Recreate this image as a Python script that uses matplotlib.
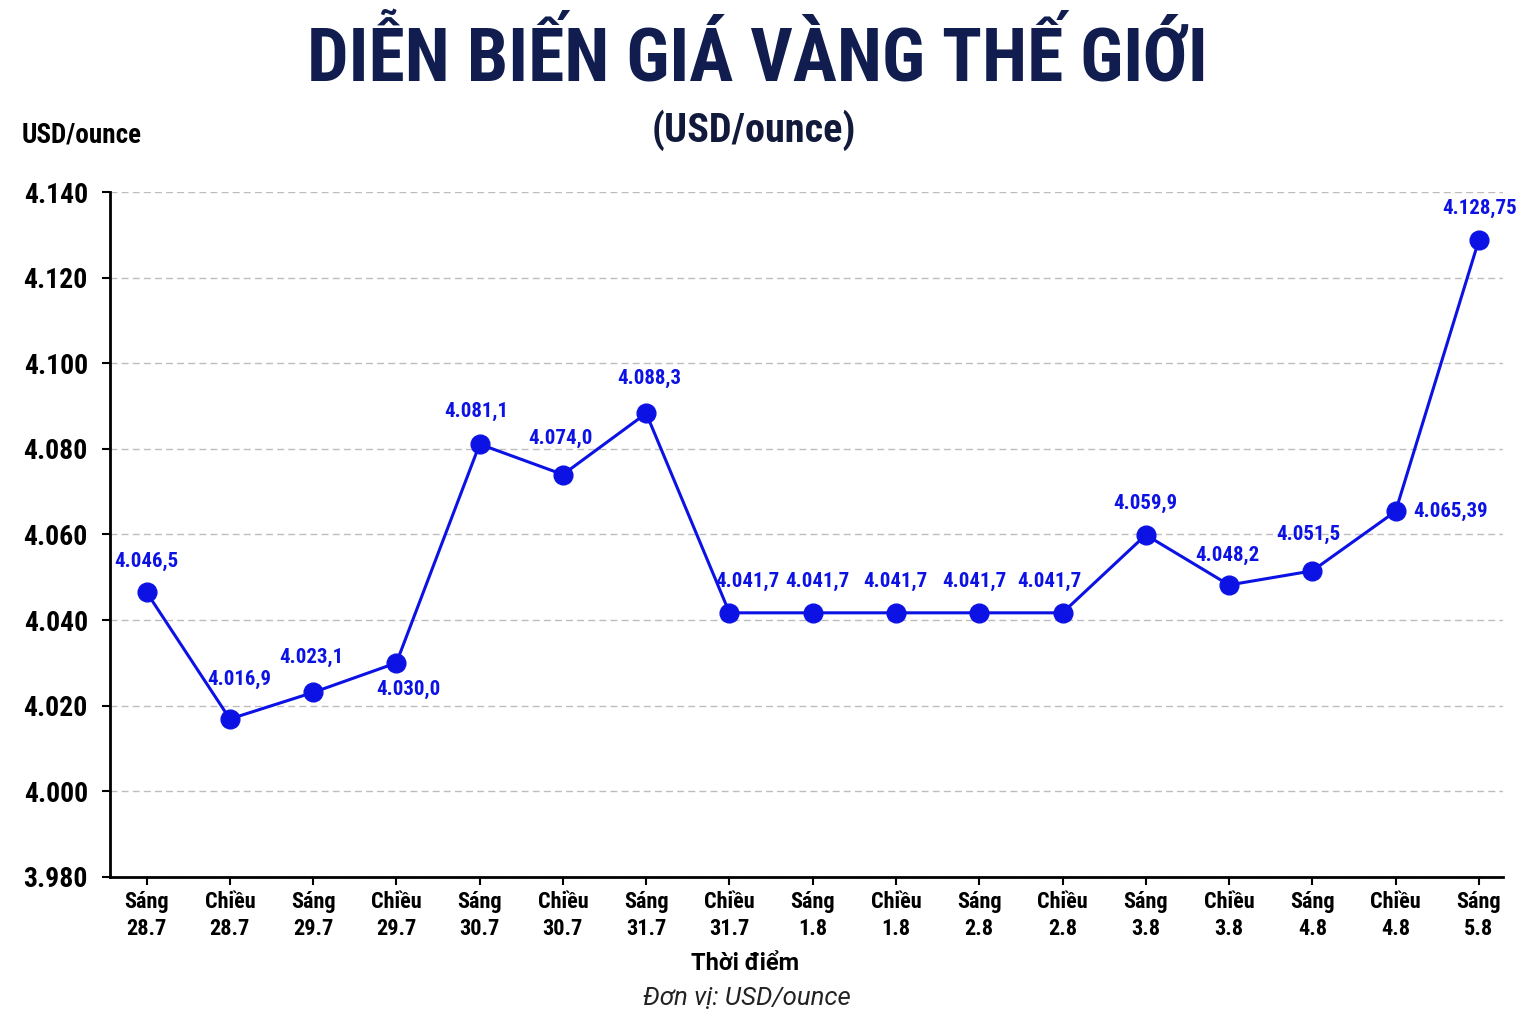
import matplotlib
matplotlib.use('Agg')
import matplotlib.pyplot as plt
from matplotlib import font_manager

# Data
sessions = ['Sáng', 'Chiều', 'Sáng', 'Chiều', 'Sáng', 'Chiều', 'Sáng', 'Chiều', 'Sáng',
            'Chiều', 'Sáng', 'Chiều', 'Sáng', 'Chiều', 'Sáng', 'Chiều', 'Sáng']
days = ['28.7', '28.7', '29.7', '29.7', '30.7', '30.7', '31.7', '31.7', '1.8',
        '1.8', '2.8', '2.8', '3.8', '3.8', '4.8', '4.8', '5.8']
prices = [4046.5, 4016.9, 4023.1, 4030.0, 4081.1, 4074.0, 4088.3, 4041.7, 4041.7,
          4041.7, 4041.7, 4041.7, 4059.9, 4048.2, 4051.5, 4065.39, 4128.75]
price_labels = ['4.046,5', '4.016,9', '4.023,1', '4.030,0', '4.081,1', '4.074,0', '4.088,3',
                '4.041,7', '4.041,7', '4.041,7', '4.041,7', '4.041,7', '4.059,9', '4.048,2',
                '4.051,5', '4.065,39', '4.128,75']
y_ticks = [3980, 4000, 4020, 4040, 4060, 4080, 4100, 4120, 4140]
y_tick_labels = ['3.980', '4.000', '4.020', '4.040', '4.060', '4.080', '4.100', '4.120', '4.140']

# label offsets in pixels (dx, dy)
label_offsets = [(0, 31), (9, 40), (-2, 35), (12, -27), (-3, 33), (-2, 36), (3, 35),
                 (18, 31), (5, 31), (-1, 31), (-5, 31), (-13, 31), (0, 31), (-2, 30),
                 (-4, 36), (55, 0), (1, 32)]

installed = {f.name for f in font_manager.fontManager.ttflist}
narrow = 'Roboto'
for cand in ['Roboto Condensed', 'Open Sans Condensed', 'Liberation Sans Narrow']:
    if cand in installed:
        narrow = cand
        break
cond = narrow != 'Roboto'

navy = '#111d4f'
blue = '#0c12e4'

fig = plt.figure(figsize=(15.36, 10.24), dpi=100)
ax = fig.add_axes([0.0716, 0.1436, 0.9069, 0.6689])

x = list(range(len(prices)))
ax.plot(x, prices, color=blue, linewidth=2.2, marker='o', markersize=13.5, zorder=3)

lab_size = 15 if cond else 13.5
for i, (v, lab) in enumerate(zip(prices, price_labels)):
    dx, dy = label_offsets[i]
    ax.annotate(lab, (i, v), xytext=(dx * 0.72, dy * 0.72), textcoords='offset points',
                ha='center', va='center', color=blue, fontsize=lab_size, fontweight='bold',
                family=narrow)

ax.set_ylim(3980, 4140)
ax.set_xlim(-0.44, 16.29)
ax.set_yticks(y_ticks)
ax.set_yticklabels(y_tick_labels, family=narrow, fontsize=20 if cond else 19, fontweight='bold')
ax.set_xticks(x)
ax.set_xticklabels([f'{s}\n{d}' for s, d in zip(sessions, days)], family=narrow,
                   fontsize=16 if cond else 14, fontweight='bold', linespacing=1.3)
ax.tick_params(axis='both', length=6, width=1.5, colors='black')
ax.tick_params(axis='y', pad=10)
ax.tick_params(axis='x', pad=4)

ax.grid(axis='y', linestyle='--', color='#bdbdbd', linewidth=1, dashes=(5, 3))
ax.set_axisbelow(True)
for side in ['top', 'right']:
    ax.spines[side].set_visible(False)
for side in ['left', 'bottom']:
    ax.spines[side].set_linewidth(2)

fig.text(745 / 1536, 1 - 963 / 1024, 'Thời điểm', ha='center', va='center',
         family='Roboto', fontsize=17, fontweight='bold')

fig.text(0.493, 0.941, 'DIỄN BIẾN GIÁ VÀNG THẾ GIỚI', ha='center', va='center',
         color=navy, fontsize=53 if cond else 48, fontweight='bold', family=narrow)
fig.text(0.491, 0.873, '(USD/ounce)', ha='center', va='center', color='#111a3a',
         fontsize=29 if cond else 26, fontweight='bold', family=narrow)
fig.text(0.014, 0.868, 'USD/ounce', ha='left', va='center', color='black',
         fontsize=19.5 if cond else 18, fontweight='bold', family=narrow)
fig.text(0.486, 0.0254, 'Đơn vị: USD/ounce', ha='center', va='center', color='#222222',
         fontsize=18.5, style='italic', family='Roboto')

fig.savefig('out.png', dpi=100, facecolor='white')
